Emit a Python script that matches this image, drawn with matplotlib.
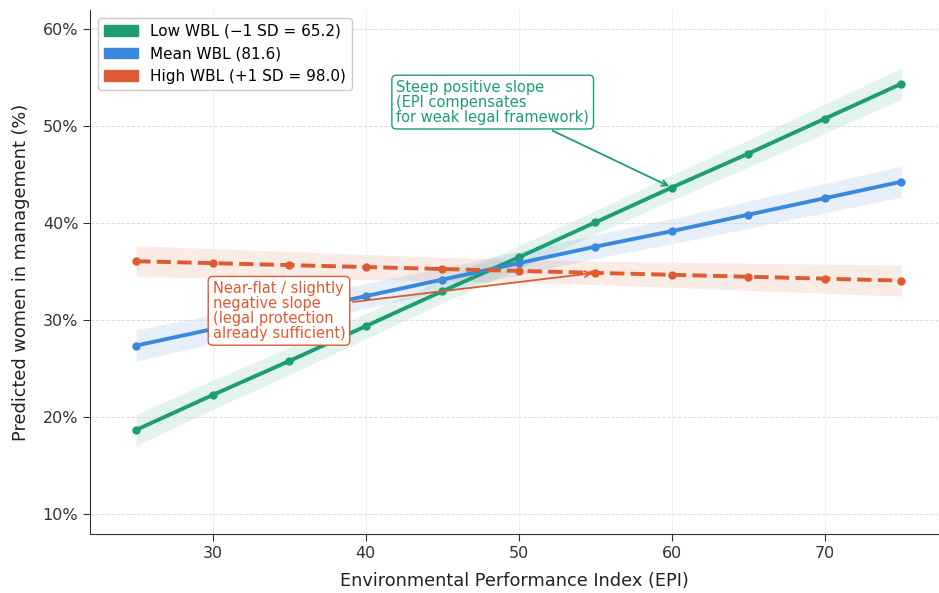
import numpy as np
import matplotlib.pyplot as plt
from matplotlib.ticker import FuncFormatter
from matplotlib.patches import Patch

# ---- data ----
epi = [25, 30, 35, 40, 45, 50, 55, 60, 65, 70, 75]

low_wbl  = [18.7, 22.3, 25.8, 29.4, 33.0, 36.5, 40.1, 43.7, 47.2, 50.8, 54.4]
mean_wbl = [27.4, 29.1, 30.8, 32.5, 34.2, 35.9, 37.6, 39.2, 40.9, 42.6, 44.3]
high_wbl = [36.1, 35.9, 35.7, 35.5, 35.3, 35.1, 34.9, 34.7, 34.5, 34.3, 34.1]

# half-width of the confidence bands
low_ci  = [1.6, 1.5, 1.4, 1.3, 1.2, 1.2, 1.2, 1.3, 1.4, 1.5, 1.6]
mean_ci = [1.6, 1.5, 1.4, 1.3, 1.2, 1.2, 1.2, 1.3, 1.4, 1.5, 1.6]
high_ci = [1.6, 1.5, 1.4, 1.3, 1.2, 1.2, 1.2, 1.3, 1.4, 1.5, 1.6]

labels = ["Low WBL (\u22121 SD = 65.2)", "Mean WBL (81.6)", "High WBL (+1 SD = 98.0)"]
colors = ["#1c9e70", "#3a88dc", "#dc5b30"]

# ---- plot ----
fig, ax = plt.subplots(figsize=(9.39, 5.93), dpi=100)

series = [low_wbl, mean_wbl, high_wbl]
cis = [low_ci, mean_ci, high_ci]
styles = ["-", "-", "--"]

for y, ci, c, ls, lab in zip(series, cis, colors, styles, labels):
    y = np.array(y)
    ci = np.array(ci)
    ax.fill_between(epi, y - ci, y + ci, color=c, alpha=0.12, linewidth=0)
    ax.plot(epi, y, ls, color=c, linewidth=2.8, marker="o", markersize=5, label=lab)

ax.set_xlim(22, 77.4)
ax.set_ylim(8, 62)
ax.set_xticks([30, 40, 50, 60, 70])
ax.set_yticks([10, 20, 30, 40, 50, 60])
ax.yaxis.set_major_formatter(FuncFormatter(lambda v, p: f"{v:.0f}%"))
ax.tick_params(labelsize=11.5, colors="#333333", length=5)

ax.grid(True, linestyle="--", color="#dddddd", linewidth=0.7)
ax.grid(True, axis="x", linestyle="-", color="#f0f0f0", linewidth=0.7)
ax.spines["top"].set_visible(False)
ax.spines["right"].set_visible(False)
ax.spines["left"].set_color("#333333")
ax.spines["bottom"].set_color("#333333")

ax.set_xlabel("Environmental Performance Index (EPI)", fontsize=12.8, labelpad=8, color="#222222")
ax.set_ylabel("Predicted women in management (%)", fontsize=12.8, labelpad=9, color="#222222")

# legend with coloured patches
handles = [Patch(color=c, label=l) for c, l in zip(colors, labels)]
ax.legend(handles=handles, loc="upper left", fontsize=11, framealpha=1,
          edgecolor="#cccccc", handlelength=2.2)

# ---- annotations ----
ax.annotate("Steep positive slope\n(EPI compensates\nfor weak legal framework)",
            xy=(60, low_wbl[7]), xytext=(42, 50.5),
            fontsize=10.5, color=colors[0], linespacing=1.0,
            bbox=dict(boxstyle="round,pad=0.3", fc="white", ec=colors[0]),
            arrowprops=dict(arrowstyle="->", color=colors[0], lw=1.3))

ax.annotate("Near-flat / slightly\nnegative slope\n(legal protection\nalready sufficient)",
            xy=(55, high_wbl[6]), xytext=(30, 28.2),
            fontsize=10.5, color=colors[2], linespacing=1.0,
            bbox=dict(boxstyle="round,pad=0.3", fc="white", ec=colors[2]),
            arrowprops=dict(arrowstyle="->", color=colors[2], lw=1.3))

plt.subplots_adjust(left=0.096, right=0.999, top=0.983, bottom=0.1)
plt.savefig("out.png", dpi=100)
